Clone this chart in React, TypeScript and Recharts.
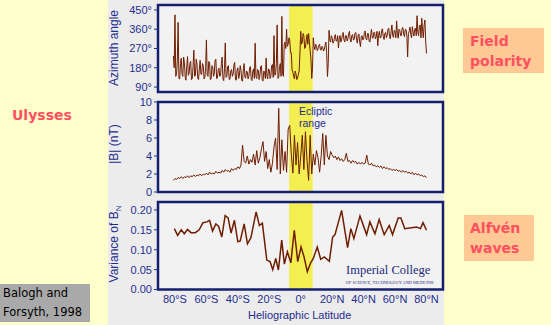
import { LineChart, Line, XAxis, YAxis, ReferenceArea } from 'recharts';

const latTicks = [-80, -60, -40, -20, 0, 20, 40, 60, 80];
const azimuthTicks = [90, 180, 270, 360, 450];
const fieldTicks = [0, 2, 4, 6, 8, 10];
const varianceTicks = [0, 0.05, 0.1, 0.15, 0.2];

// both dense series start at 81°S; azimuth is read every half degree, |B| every degree
const denseStartLat = -81;
const azimuthStep = 0.5;
const fieldStep = 1;

// Azimuth angle (deg), one row per 10 degrees
const azimuth = [
  235, 180, 427, 140, 150, 215, 392, 130, 128, 200, 225, 150, 140, 230, 205, 135, 122, 190, 232, 145, // 81S
  155, 200, 210, 125, 130, 185, 262, 140, 145, 220, 198, 130, 125, 175, 215, 150, 150, 200, 190, 128, // 71S
  135, 180, 310, 145, 140, 210, 205, 125, 128, 190, 185, 140, 150, 215, 220, 130, 132, 170, 178, 140, // 61S
  145, 200, 230, 128, 120, 175, 296, 135, 140, 185, 190, 125, 128, 165, 172, 140, 150, 195, 205, 125, // 51S
  122, 170, 180, 130, 145, 190, 168, 120, 118, 175, 200, 135, 132, 165, 160, 128, 140, 180, 186, 125, // 41S
  120, 165, 175, 130, 295, 140, 130, 172, 168, 125, 142, 185, 190, 122, 118, 165, 160, 130, 226, 140, // 31S
  128, 175, 170, 130, 140, 190, 195, 135, 330, 145, 150, 200, 380, 130, 135, 185, 200, 140, 420, 150, // 21S
  140, 290, 300, 270, 360, 280, 290, 320, 310, 250, 250, 170, 160, 140, 128, 165, 150, 125, 132, 150, // 11S
  165, 250, 350, 290, 300, 340, 330, 270, 275, 310, 335, 290, 340, 300, 260, 220, 130, 180, 320, 280, // 1S
  265, 290, 280, 260, 268, 285, 290, 265, 262, 280, 275, 258, 265, 285, 300, 250, 139, 200, 355, 310, // 9N
  300, 330, 318, 295, 300, 325, 335, 305, 305, 330, 272, 315, 330, 300, 310, 335, 345, 310, 300, 330, // 19N
  330, 305, 315, 340, 350, 310, 300, 330, 335, 310, 312, 340, 345, 315, 295, 330, 338, 300, 279, 325, // 29N
  330, 310, 315, 345, 352, 315, 310, 340, 340, 305, 300, 335, 360, 320, 318, 345, 345, 315, 325, 350, // 39N
  283, 330, 350, 320, 320, 355, 362, 325, 312, 340, 345, 320, 330, 360, 365, 325, 315, 350, 380, 330, // 49N
  322, 355, 350, 320, 399, 340, 318, 360, 355, 330, 330, 365, 368, 335, 325, 360, 358, 330, 231, 340, // 59N
  350, 370, 335, 320, 372, 345, 328, 360, 365, 330, 423, 345, 330, 375, 380, 320, 411, 350, 320, 380, // 69N
  403, 300, 247 // 79N
];

// |B| (nT), one row per 10 degrees
const fieldMag = [
  1.3, 1.5, 1.4, 1.6, 1.5, 1.7, 1.5, 1.7, 1.6, 1.8,
  1.6, 1.8, 1.7, 1.9, 1.7, 1.9, 1.8, 2.0, 1.8, 2.0,
  1.9, 2.1, 1.9, 2.2, 2.0, 2.1, 2.0, 2.3, 2.1, 2.2,
  2.1, 2.4, 2.2, 2.5, 2.3, 2.4, 2.2, 2.6, 2.4, 2.6,
  2.5, 2.8, 2.6, 3.0, 5.2, 3.4, 3.2, 4.0, 3.1, 3.6,
  3.3, 4.2, 3.0, 4.6, 3.2, 3.8, 4.8, 5.6, 3.4, 4.5,
  2.6, 3.6, 2.2, 3.2, 5.0, 6.0, 2.5, 9.3, 2.0, 5.8,
  2.4, 4.5, 2.2, 7.0, 7.4, 4.2, 2.1, 6.3, 3.0, 5.5,
  2.0, 4.0, 6.3, 2.5, 6.7, 3.5, 1.3, 6.3, 2.0, 4.2,
  3.0, 4.6, 3.8, 2.2, 4.0, 6.5, 3.0, 6.3, 4.0, 3.6,
  4.5, 4.1, 3.8, 4.0, 3.6, 3.9, 3.5, 3.7, 3.4, 3.6,
  4.3, 3.4, 3.5, 3.2, 3.5, 3.3, 3.4, 3.1, 3.3, 3.1,
  3.3, 3.1, 3.2, 4.1, 3.1, 3.0, 3.2, 2.9, 3.0, 2.8,
  2.9, 2.75, 2.9, 2.6, 2.8, 2.6, 2.7, 2.5, 2.6, 2.4,
  2.5, 2.4, 2.5, 2.3, 2.4, 2.2, 2.4, 2.2, 2.3, 2.1,
  2.2, 2.0, 2.2, 1.9, 2.1, 1.9, 2.0, 1.8, 1.9, 1.7,
  1.8, 1.6
];

// Variance of B_N
const varLat = [
  -80.4, -78.3, -76.0, -74.1, -72.0, -69.8, -67.1, -64.6, -62.2, -59.7,
  -58.0, -56.1, -54.0, -52.3, -50.2, -48.1, -46.2, -44.3, -42.2, -40.0,
  -38.5, -36.0, -33.9, -31.7, -28.4, -26.3, -24.4, -21.6, -19.5, -17.8,
  -15.9, -14.2, -12.1, -10.4, -8.5, -6.3, -4.1, -1.9, 0.2, 2.1,
  4.2, 6.3, 8.0, 10.5, 12.7, 15.0, 18.2, 20.3, 21.8, 26.0,
  29.8, 31.9, 33.8, 37.7, 41.9, 44.0, 47.2, 49.9, 53.1, 56.3,
  58.4, 62.0, 63.7, 66.2, 73.7, 76.2, 77.8, 80.0
];
const varBn = [
  0.153, 0.136, 0.150, 0.140, 0.151, 0.143, 0.143, 0.150, 0.168, 0.170,
  0.174, 0.147, 0.165, 0.159, 0.132, 0.186, 0.180, 0.142, 0.174, 0.120,
  0.122, 0.165, 0.115, 0.130, 0.195, 0.161, 0.167, 0.074, 0.070, 0.050,
  0.078, 0.049, 0.124, 0.064, 0.095, 0.067, 0.149, 0.070, 0.107, 0.082,
  0.045, 0.067, 0.078, 0.107, 0.076, 0.082, 0.071, 0.132, 0.138, 0.199,
  0.105, 0.153, 0.128, 0.185, 0.138, 0.170, 0.140, 0.176, 0.138, 0.161,
  0.138, 0.180, 0.180, 0.153, 0.157, 0.153, 0.168, 0.149
];

const NAVY = '#14206e';
const TICK_BLUE = '#1f2d8f';
const LINE_BROWN = '#6f1d00';
const BAND_YELLOW = '#f3ef52';
const PLOT_BG = '#f2f2f2';
const PINK_TEXT = '#ff5060';
const PEACH = '#ffc995';

const LAT_DOMAIN: [number, number] = [-90.8, 90.5];
const ECLIPTIC: [number, number] = [-7.4, 7.6];

const latLabel = (v: number) => (v === 0 ? '0°' : v < 0 ? `${-v}°S` : `${v}°N`);

type Point = { lat: number; v: number };

type PanelProps = {
  data: Point[];
  top: number;
  height: number;
  marginTop: number;
  xAxisHeight: number;
  yDomain: [number, number];
  yTicks: number[];
  yFormat: (v: number) => string;
  showLatLabels?: boolean;
  strokeWidth: number;
};

function Panel({
  data,
  top,
  height,
  marginTop,
  xAxisHeight,
  yDomain,
  yTicks,
  yFormat,
  showLatLabels = false,
  strokeWidth
}: PanelProps) {
  return (
    <div style={{ position: 'absolute', left: 0, top }}>
      <LineChart
        width={551}
        height={height}
        data={data}
        margin={{ top: marginTop, right: 108, bottom: 0, left: 118 }}
        style={{ fontFamily: '"Liberation Sans", Arial, sans-serif' }}
      >
        <XAxis
          dataKey="lat"
          type="number"
          domain={LAT_DOMAIN}
          ticks={latTicks}
          allowDataOverflow
          interval={0}
          height={xAxisHeight}
          axisLine={false}
          tickLine={showLatLabels ? false : { stroke: TICK_BLUE }}
          tickSize={showLatLabels ? 0 : 6}
          tickMargin={showLatLabels ? 6 : 0}
          tick={showLatLabels ? { fill: TICK_BLUE, fontSize: 11 } : false}
          tickFormatter={latLabel}
        />
        <YAxis
          type="number"
          domain={yDomain}
          ticks={yTicks}
          allowDataOverflow
          interval={0}
          width={40}
          axisLine={false}
          tickSize={4}
          tickMargin={2}
          tickLine={{ stroke: TICK_BLUE }}
          tick={{ fill: TICK_BLUE, fontSize: 11 }}
          tickFormatter={yFormat}
        />
        <ReferenceArea
          x1={LAT_DOMAIN[0]} x2={LAT_DOMAIN[1]} y1={yDomain[0]} y2={yDomain[1]}
          fill={PLOT_BG} fillOpacity={1} stroke="none"
        />
        <ReferenceArea
          x1={ECLIPTIC[0]} x2={ECLIPTIC[1]} y1={yDomain[0]} y2={yDomain[1]}
          fill={BAND_YELLOW} fillOpacity={1} stroke="none"
        />
        <Line
          dataKey="v"
          type="linear"
          stroke={LINE_BROWN}
          strokeWidth={strokeWidth}
          dot={false}
          isAnimationActive={false}
        />
        {/* frame drawn last so it sits over the band */}
        <ReferenceArea
          x1={LAT_DOMAIN[0]} x2={LAT_DOMAIN[1]} y1={yDomain[0]} y2={yDomain[1]}
          fill="none" stroke={NAVY} strokeWidth={2.5} strokeOpacity={1}
        />
      </LineChart>
    </div>
  );
}

const axisTitle = (text: React.ReactNode, cx: number, cy: number, size = 12) => (
  <div
    style={{
      position: 'absolute',
      left: cx - 60,
      top: cy - 8,
      width: 120,
      height: 16,
      lineHeight: '16px',
      textAlign: 'center',
      transform: 'rotate(-90deg)',
      color: TICK_BLUE,
      fontSize: size,
      whiteSpace: 'nowrap'
    }}
  >
    {text}
  </div>
);

export default function App() {
  const azData = azimuth.map((v, i) => ({ lat: denseStartLat + i * azimuthStep, v }));
  const bData = fieldMag.map((v, i) => ({ lat: denseStartLat + i * fieldStep, v }));
  const varData = varLat.map((lat, i) => ({ lat, v: varBn[i] }));

  const boldPink = {
    position: 'absolute' as const,
    fontFamily: '"DejaVu Sans", Verdana, sans-serif',
    fontWeight: 700,
    fontSize: 14,
    color: PINK_TEXT,
    lineHeight: '20px'
  };

  return (
    <div
      style={{
        position: 'absolute',
        left: 0,
        top: 0,
        width: 551,
        height: 325,
        overflow: 'hidden',
        background: '#ffffcc',
        fontFamily: '"Liberation Sans", Arial, sans-serif'
      }}
    >
      <div style={{ position: 'absolute', left: 108, top: 0, width: 336, height: 325, background: '#ececec' }} />

      <Panel
        data={azData} top={0} height={100} marginTop={5} xAxisHeight={8}
        yDomain={[67, 473]} yTicks={azimuthTicks} yFormat={v => `${v}°`} strokeWidth={1}
      />
      <Panel
        data={bData} top={95} height={105} marginTop={7} xAxisHeight={8}
        yDomain={[0, 10]} yTicks={fieldTicks} yFormat={v => `${v}`} strokeWidth={1}
      />
      <Panel
        data={varData} top={195} height={130} marginTop={7} xAxisHeight={35.5}
        yDomain={[0, 0.22]} yTicks={varianceTicks} yFormat={v => v.toFixed(2)}
        showLatLabels strokeWidth={1.5}
      />

      {axisTitle('Azimuth angle', 114, 48)}
      {axisTitle('|B| (nT)', 114, 144)}
      {axisTitle(<span>Variance of B<sub style={{ fontSize: 8 }}>N</sub></span>, 114, 244)}

      <div
        style={{
          position: 'absolute', left: 248, top: 309, width: 100, textAlign: 'center',
          fontSize: 11, color: TICK_BLUE, whiteSpace: 'nowrap'
        }}
      >
        Heliographic Latitude
      </div>

      <div style={{ position: 'absolute', left: 299, top: 106, fontSize: 10.5, lineHeight: '11.5px', color: TICK_BLUE }}>
        Ecliptic<br />range
      </div>

      <div
        style={{
          position: 'absolute', left: 346, top: 263, fontFamily: '"Liberation Serif", "Times New Roman", serif',
          fontSize: 12.5, color: '#1c2a7c', whiteSpace: 'nowrap'
        }}
      >
        Imperial College
      </div>
      <div
        style={{
          position: 'absolute', left: 346, top: 280, fontFamily: '"Liberation Serif", serif',
          fontSize: 4.3, color: '#1c2a7c', whiteSpace: 'nowrap'
        }}
      >
        OF SCIENCE, TECHNOLOGY AND MEDICINE
      </div>

      <div style={{ ...boldPink, left: 12, top: 105 }}>Ulysses</div>

      <div style={{ position: 'absolute', left: 463, top: 28, width: 81, height: 45, background: PEACH }} />
      <div style={{ ...boldPink, left: 470, top: 31 }}>Field<br />polarity</div>

      <div style={{ position: 'absolute', left: 464, top: 215, width: 70, height: 46, background: PEACH }} />
      <div style={{ ...boldPink, left: 470, top: 218 }}>Alfvén<br />waves</div>

      <div
        style={{
          position: 'absolute', left: 0, top: 284, width: 90, height: 38, background: '#a9a9a9',
          fontFamily: '"DejaVu Sans", Verdana, sans-serif', fontSize: 11.5, lineHeight: '19px',
          color: '#000', paddingLeft: 3, boxSizing: 'border-box', whiteSpace: 'nowrap'
        }}
      >
        Balogh and<br />Forsyth, 1998
      </div>
    </div>
  );
}
